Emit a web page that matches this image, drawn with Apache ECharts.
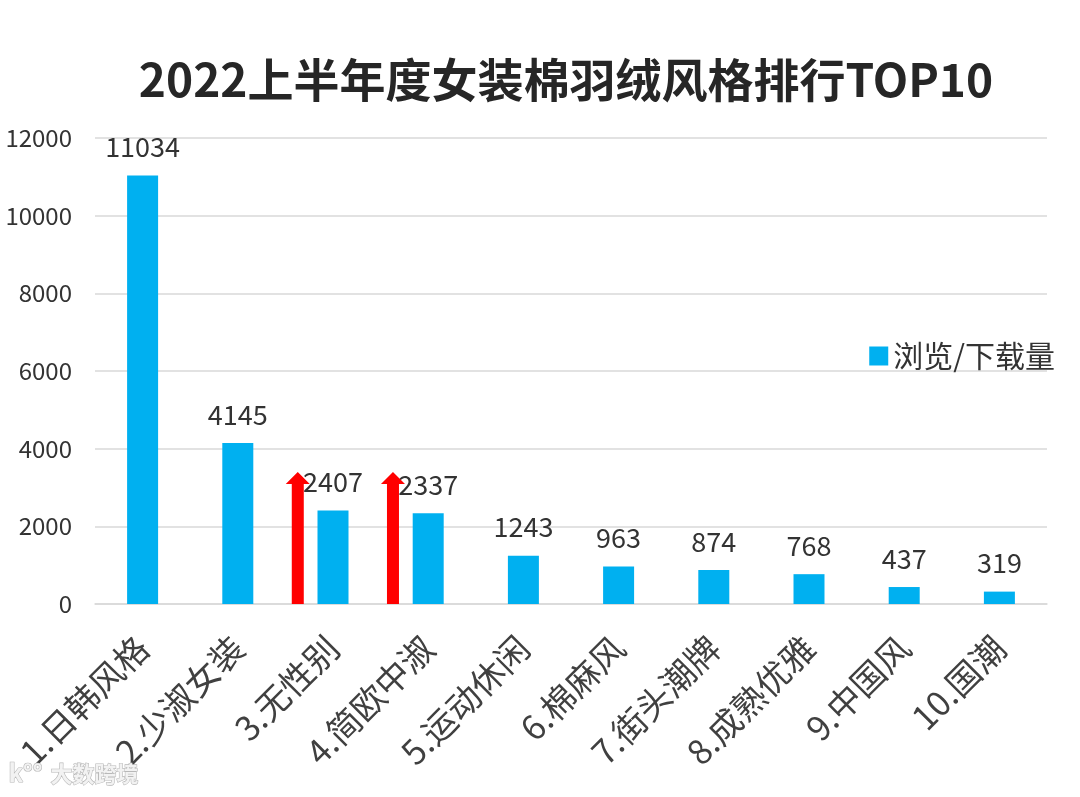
<!DOCTYPE html>
<html><head><meta charset="utf-8">
<script src="https://cdn.jsdelivr.net/npm/echarts@6/dist/echarts.min.js"></script>
<style>html,body{margin:0;padding:0;background:#fff}#c{width:1080px;height:797px}</style>
</head><body><div id="c"></div>
<script>
const categories = ['1.日韩风格','2.少淑女装','3.无性别','4.简欧中淑','5.运动休闲','6.棉麻风','7.街头潮牌','8.成熟优雅','9.中国风','10.国潮'];
const views = [11034, 4145, 2407, 2337, 1243, 963, 874, 768, 437, 319];
const arrows = [null, null, 3400, 3400, null, null, null, null, null, null];
const yTicks = [0, 2000, 4000, 6000, 8000, 10000, 12000];
const font = '"Noto Sans CJK SC", "Noto Sans", sans-serif';

const chart = echarts.init(document.getElementById('c'));
chart.setOption({
  animation: false,
  backgroundColor: '#fff',
  textStyle: { fontFamily: font },
  title: {
    text: '2022上半年度女装棉羽绒风格排行TOP10',
    left: 561, top: 52, textAlign: 'center',
    textStyle: { fontFamily: font, fontSize: 46, fontWeight: 'bold', color: '#262626' }
  },
  legend: {
    data: ['浏览/下载量'], right: 20, top: 336,
    itemWidth: 19, itemHeight: 19, icon: 'rect', itemGap: 8,
    textStyle: { fontFamily: font, fontSize: 30, color: '#333' }
  },
  grid: { left: 95, right: 33, top: 138, bottom: 193, containLabel: false },
  xAxis: {
    type: 'category', data: categories,
    axisLine: { lineStyle: { color: '#d9d9d9', width: 1.5 } },
    axisTick: { show: false },
    axisLabel: { rotate: 45, fontSize: 34, color: '#404040', fontFamily: font, margin: 38, interval: 0 }
  },
  yAxis: {
    type: 'value', min: 0, max: 12000, interval: 2000,
    axisLine: { show: false }, axisTick: { show: false },
    splitLine: { lineStyle: { color: '#d9d9d9', width: 1.5 } },
    axisLabel: { fontSize: 24, color: '#333', fontFamily: font, margin: 23,
      formatter: v => yTicks.includes(v) ? String(v) : '' }
  },
  series: [
    {
      name: '浏览/下载量', type: 'bar', data: views, barWidth: 31,
      itemStyle: { color: '#00B0F0' },
      label: { show: true, position: 'top', distance: 15, fontSize: 27, color: '#333', fontFamily: font }
    },
    {
      name: 'arrow', type: 'custom', data: arrows.map((v, i) => v == null ? null : [i, v]),
      z: 5, silent: true,
      renderItem: function (params, api) {
        if (api.value(1) == null || isNaN(api.value(1))) return;
        const idx = api.value(0);
        const top = api.coord([idx, api.value(1)]);
        const bottom = api.coord([idx, 0]);
        const band = api.size([1, 0])[0];
        const cx = top[0] - band * 0.37;
        const sw = 6, hw = 12, hh = 12;
        const y0 = top[1], yb = bottom[1];
        return {
          type: 'polygon',
          shape: { points: [
            [cx - sw, yb], [cx - sw, y0 + hh], [cx - hw, y0 + hh], [cx, y0],
            [cx + hw, y0 + hh], [cx + sw, y0 + hh], [cx + sw, yb]
          ] },
          style: { fill: '#FF0000' }
        };
      }
    }
  ],
  graphic: [
    { type: 'text', left: 8, top: 760, z: 100,
      style: { text: 'k°°', fontSize: 24, fontWeight: 'bold', fill: '#f2f2f2', stroke: '#b8b8b8', lineWidth: 1.2, fontFamily: font } },
    { type: 'text', left: 50, top: 762, z: 100,
      style: { text: '大数跨境', fontSize: 22, fontWeight: 'bold', fill: '#f2f2f2', stroke: '#b8b8b8', lineWidth: 1.2, fontFamily: font } }
  ]
});
</script></body></html>
